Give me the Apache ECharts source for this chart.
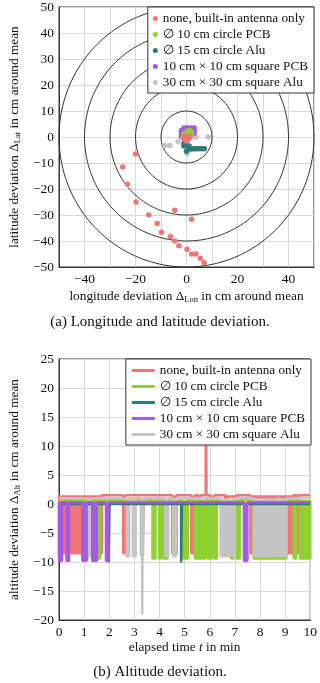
<!DOCTYPE html>
<html>
<head>
<meta charset="utf-8">
<script src="https://cdn.jsdelivr.net/npm/echarts@6/dist/echarts.min.js"></script>
<style>
  html, body { margin: 0; padding: 0; background: #fff; }
  #chart { width: 320px; height: 683px; }
</style>
</head>
<body>
<div id="chart"></div>
<script>
// series names (shared by both plots)
const seriesNames = [
  'none, built-in antenna only',
  '∅ 10 cm circle PCB',
  '∅ 15 cm circle Alu',
  '10 cm × 10 cm square PCB',
  '30 cm × 30 cm square Alu'
]

// (a) longitude / latitude deviation in cm, [lon, lat]
const lonLatNone = [
  [-20, -6.5], [-25, -11.5], [-23.2, -18.2], [-19.8, -25], [-14.8, -30],
  [-11.5, -33.3], [-9.8, -36.6], [-6.3, -38.3], [-4.6, -40], [-3, -41.8],
  [-4.6, -28.2], [2, -31.6], [0.2, -43.2], [2, -45], [3.7, -45],
  [5.4, -46.7], [6.9, -48.4],
  [-1.6, 0.3], [-0.5, 0.3], [0.5, 0.3], [1.6, 0.3],
  [-1, -0.6], [0, -0.6], [1, -0.6], [0, -1.6]
]
const lonLatPcb10 = [[0, 1.5], [1, 1.5], [2, 1.5], [0.5, 2.4], [1.5, 2.4], [-1, 1.2]]
const lonLatAlu15 = [
  [-1.8, 1.5], [-2, 0.3], [-1, -0.5], [-0.5, -1.5], [-1, -2.5], [0, -2.5],
  [-1, -3.5], [0, -3.5], [1, -3.5], [1, -4.5], [2, -4.5], [3, -4.5],
  [4, -4.5], [5, -4.5], [6, -4.5], [7, -4.5], [0, -5.5]
]
const lonLatPcbSq = [
  [-1, 3.5], [0, 3.5], [1, 3.5], [2, 3.5], [3, 3.5], [-2, 2.5], [-1, 2.5],
  [3, 2.5], [-2, 1.5], [3, 1.5], [2, 1.5]
]
const lonLatAluSq = [
  [-8.4, -3.3], [-6.5, -3.3], [-3.3, -1.7], [3.7, 0], [8.5, 0],
  [0.2, -6.4], [1.8, -4.9], [-2, 1.5], [2.7, -4.5]
]
const ringRadii = [10, 20, 30, 40, 50]

// (b) altitude deviation: resting level, dip level, and dip intervals [t0, t1, value?] in min
const altHigh = [1.5, 0.7, 0, 0.3, 1.0]
const altLow = [-8.5, -9.4, -10.1, -9.8, -9.0]
const altNoneDips = [
  [0, 1.7], [2.55, 2.64], [4.51, 4.68], [5.26, 5.41], [5.55, 5.62],
  [5.84, 5.87, 22], [6.02, 6.18], [6.62, 7.07], [7.62, 9.31], [9.44, 9.52]
]
const altPcb10Dips = [
  [1.06, 1.15], [1.51, 1.64], [3.72, 3.84], [3.98, 4.08], [4.16, 4.32],
  [4.91, 5.13], [5.41, 5.64], [5.69, 5.83], [5.92, 6.08], [6.18, 6.28],
  [6.85, 6.95], [7.07, 7.2], [7.75, 9.05], [9.34, 9.44], [9.59, 10]
]
const altAlu15Dips = [[1.98, 2.01], [4.86, 4.89]]
const altPcbSqDips = [[0, 0.12], [0.3, 0.4], [0.93, 1.1], [1.32, 1.51], [1.87, 1.96], [7.36, 7.5]]
const altAluSqDips = [
  [1.16, 1.24], [2.69, 2.79], [2.94, 3.05], [3.26, 3.31], [3.31, 3.34, -19], [3.34, 3.4],
  [4.23, 4.35], [4.55, 4.66], [6.43, 6.62], [6.68, 6.8], [6.9, 7.0],
  [7.75, 8.31], [8.36, 8.45], [8.52, 8.72], [8.8, 9.05]
]

const colors = ['#f07676', '#8fd032', '#2e7b78', '#a65ae4', '#c4c4c4']
const font = "'Liberation Serif', 'DejaVu Serif', serif"

function minus(v) {
  return v < 0 ? '−' + Math.abs(v) : String(v)
}

function stepLine(high, low, dips) {
  const pts = [[0, high]]
  dips.forEach(d => {
    const v = d.length > 2 ? d[2] : low
    pts.push([d[0], high], [d[0], v], [d[1], v], [d[1], high])
  })
  pts.push([10, high])
  return pts
}

function ring(r) {
  const pts = []
  for (let a = 0; a <= 360; a += 2) {
    pts.push([r * Math.cos(a * Math.PI / 180), r * Math.sin(a * Math.PI / 180)])
  }
  return pts
}

const myChart = echarts.init(document.getElementById('chart'))

const axisLabelStyle = { color: '#111', fontFamily: font, fontSize: 13.5 }
const nameRich = {
  t: { fontFamily: font, fontSize: 13.3, color: '#111' },
  s: { fontFamily: font, fontSize: 8.5, color: '#111', padding: [6, 0, 0, 0] },
  i: { fontFamily: font, fontSize: 13.3, color: '#111', fontStyle: 'italic' }
}
const splitLine = { show: true, lineStyle: { color: '#d9d9d9', width: 1 } }
const axisLine = { show: true, onZero: false, lineStyle: { color: '#333', width: 1 } }

const scatterSets = [lonLatNone, lonLatPcb10, lonLatAlu15, lonLatPcbSq, lonLatAluSq]
const altSets = [altNoneDips, altPcb10Dips, altAlu15Dips, altPcbSqDips, altAluSqDips]
// drawing order: later on top
const scatterOrder = [4, 2, 3, 1, 0]
const lineOrder = [0, 1, 4, 2, 3]

const series = []
ringRadii.forEach(r => {
  series.push({
    type: 'line', xAxisIndex: 0, yAxisIndex: 0, data: ring(r), symbol: 'none',
    silent: true, z: 1, lineStyle: { color: '#333', width: 1 }
  })
})
scatterOrder.forEach((k, n) => {
  series.push({
    name: seriesNames[k], type: 'scatter', xAxisIndex: 0, yAxisIndex: 0,
    data: scatterSets[k], symbolSize: 5.5, z: 3 + n,
    itemStyle: { color: colors[k], opacity: 1 }
  })
})
lineOrder.forEach((k, n) => {
  series.push({
    name: seriesNames[k], type: 'line', xAxisIndex: 1, yAxisIndex: 1,
    data: stepLine(altHigh[k], altLow[k], altSets[k]), symbol: 'none', z: 3 + n,
    lineStyle: { color: colors[k], width: 2.5 },
    itemStyle: { color: colors[k] },
    areaStyle: { origin: altHigh[k], color: colors[k], opacity: 1 }
  })
})

myChart.setOption({
  animation: false,
  grid: [
    { left: 53, top: 7, width: 261, height: 260, show: true, borderColor: '#333', borderWidth: 1 },
    { left: 50, top: 359, width: 261, height: 261, show: true, borderColor: '#333', borderWidth: 1 }
  ],
  legend: [
    {
      orient: 'vertical', right: 6, top: 7, padding: [5, 6, 4, 5],
      backgroundColor: '#fff', borderColor: '#333', borderWidth: 1, borderRadius: 0,
      itemWidth: 5, itemHeight: 5, itemGap: 3,
      textStyle: { fontFamily: font, fontSize: 13.2, color: '#111' },
      data: seriesNames.map(n => ({ name: n, icon: 'circle' }))
    },
    {
      orient: 'vertical', right: 9, top: 359, padding: [5, 6, 4, 6],
      backgroundColor: '#fff', borderColor: '#333', borderWidth: 1, borderRadius: 0,
      itemWidth: 23, itemHeight: 3, itemGap: 3,
      textStyle: { fontFamily: font, fontSize: 13.2, color: '#111' },
      data: seriesNames.map(n => ({ name: n, icon: 'rect' }))
    }
  ],
  xAxis: [
    {
      gridIndex: 0, type: 'value', min: -50, max: 50, interval: 10,
      axisLine, axisTick: { show: false }, splitLine,
      axisLabel: { ...axisLabelStyle, margin: 5, formatter: v => (v % 20 === 0 ? minus(v) : '') },
      name: '{t|longitude deviation Δ}{s|Lon}{t| in cm around mean}',
      nameLocation: 'middle', nameGap: 22, nameTextStyle: { rich: nameRich }
    },
    {
      gridIndex: 1, type: 'value', min: 0, max: 10, interval: 1,
      axisLine, axisTick: { show: false }, splitLine,
      axisLabel: { ...axisLabelStyle, margin: 5, formatter: minus },
      name: '{t|elapsed time }{i|t}{t| in min}',
      nameLocation: 'middle', nameGap: 21, nameTextStyle: { rich: nameRich }
    }
  ],
  yAxis: [
    {
      gridIndex: 0, type: 'value', min: -50, max: 50, interval: 10,
      axisLine, axisTick: { show: false }, splitLine,
      axisLabel: { ...axisLabelStyle, margin: 5, formatter: minus },
      name: '{t|latitude deviation Δ}{s|Lat}{t| in cm around mean}',
      nameLocation: 'middle', nameGap: 37, nameRotate: 90, nameTextStyle: { rich: nameRich }
    },
    {
      gridIndex: 1, type: 'value', min: -20, max: 25, interval: 5,
      axisLine, axisTick: { show: false }, splitLine,
      axisLabel: { ...axisLabelStyle, margin: 5, formatter: minus },
      name: '{t|altitude deviation Δ}{s|Alt}{t| in cm around mean}',
      nameLocation: 'middle', nameGap: 34, nameRotate: 90, nameTextStyle: { rich: nameRich }
    }
  ],
  graphic: [
    {
      type: 'text', x: 160, y: 322,
      style: { text: '(a) Longitude and latitude deviation.', fontFamily: font, fontSize: 15,
        fill: '#111', align: 'center', verticalAlign: 'middle' }
    },
    {
      type: 'text', x: 160, y: 672,
      style: { text: '(b) Altitude deviation.', fontFamily: font, fontSize: 15,
        fill: '#111', align: 'center', verticalAlign: 'middle' }
    }
  ],
  series
})
</script>
</body>
</html>
